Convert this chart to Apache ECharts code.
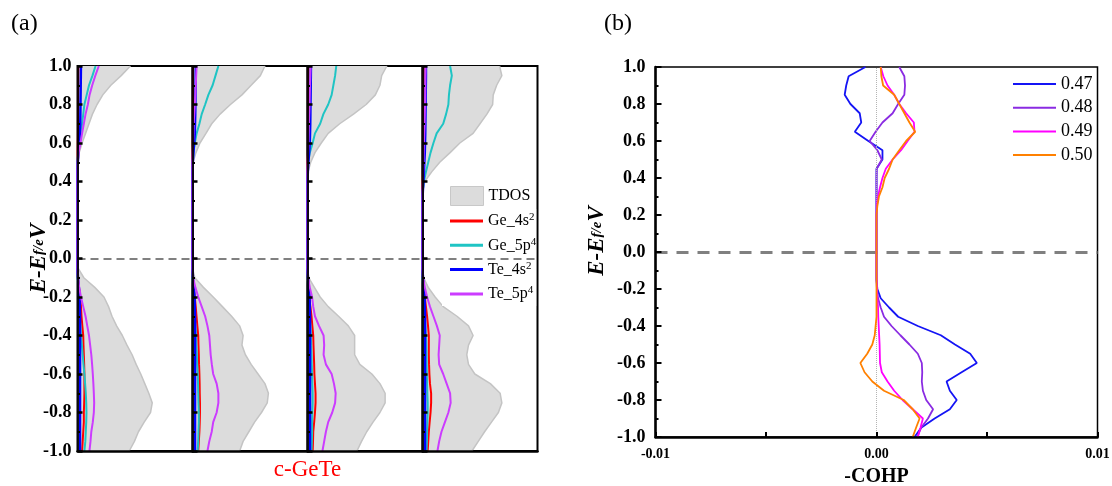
<!DOCTYPE html>
<html>
<head>
<meta charset="utf-8">
<script src="https://cdn.jsdelivr.net/npm/echarts@6/dist/echarts.min.js"></script>
<style>
  html, body { margin: 0; padding: 0; background: #fff; }
  #chart { width: 1112px; height: 486px; }
</style>
</head>
<body>
<div id="chart"></div>
<script>
// energy grid (eV), bottom -> top
const energy = [-1.0, -0.95, -0.9, -0.85, -0.8, -0.75, -0.7, -0.65, -0.6, -0.55,
  -0.5, -0.45, -0.4, -0.35, -0.3, -0.25, -0.2, -0.15, -0.1, -0.05,
  0, 0.05, 0.1, 0.15, 0.2, 0.25, 0.3, 0.35, 0.4, 0.45,
  0.5, 0.55, 0.6, 0.65, 0.7, 0.75, 0.8, 0.85, 0.9, 0.95, 1.0];

// (a) density of states, four panels
const tdos1 = [4.5, 4.95, 5.3, 5.8, 6.35, 6.5, 6.2, 5.85, 5.5, 5.1, 4.75, 4.3, 3.9, 3.4, 3.0, 2.7, 2.3, 1.5, 0.55, 0.05,
  0, 0, 0, 0, 0, 0, 0, 0, 0, 0, 0.05, 0.15, 0.4, 0.7, 1.0, 1.3, 1.7, 2.2, 2.9, 3.8, 4.6];
const ge4s1 = [0.4, 0.45, 0.5, 0.55, 0.55, 0.58, 0.6, 0.6, 0.6, 0.58, 0.55, 0.52, 0.5, 0.42, 0.35, 0.3, 0.25, 0.12, 0.03, 0,
  0, 0, 0, 0, 0, 0, 0, 0, 0, 0, 0, 0.02, 0.03, 0.04, 0.05, 0.05, 0.06, 0.06, 0.07, 0.07, 0.08];
const ge5p1 = [0.6, 0.68, 0.72, 0.76, 0.78, 0.76, 0.72, 0.66, 0.6, 0.52, 0.45, 0.38, 0.3, 0.25, 0.2, 0.15, 0.1, 0.05, 0.02, 0,
  0, 0, 0, 0, 0, 0, 0, 0, 0, 0, 0, 0.05, 0.2, 0.3, 0.4, 0.5, 0.6, 0.8, 1.0, 1.3, 1.57];
const te4s1 = [0.22, 0.22, 0.22, 0.22, 0.22, 0.22, 0.22, 0.22, 0.22, 0.22, 0.22, 0.22, 0.22, 0.22, 0.22, 0.2, 0.18, 0.12, 0.04, 0,
  0, 0, 0, 0, 0, 0, 0, 0, 0, 0, 0.03, 0.08, 0.14, 0.2, 0.24, 0.25, 0.26, 0.27, 0.28, 0.29, 0.3];
const te5p1 = [1.04, 1.13, 1.2, 1.33, 1.42, 1.45, 1.42, 1.38, 1.33, 1.27, 1.2, 1.1, 1.0, 0.85, 0.7, 0.5, 0.3, 0.15, 0.05, 0,
  0, 0, 0, 0, 0, 0, 0, 0, 0, 0, 0.02, 0.1, 0.26, 0.4, 0.55, 0.7, 0.9, 1.05, 1.28, 1.55, 1.85];

const tdos2 = [4.1, 4.4, 4.9, 5.4, 6.0, 6.5, 6.6, 6.3, 5.7, 5.1, 4.6, 4.3, 4.4, 4.1, 3.4, 2.6, 1.8, 0.95, 0.2, 0,
  0, 0, 0, 0, 0, 0, 0, 0, 0, 0, 0.05, 0.3, 0.65, 1.17, 1.67, 2.4, 3.3, 4.3, 5.1, 5.9, 6.3];
const ge4s2 = [0.5, 0.55, 0.6, 0.63, 0.65, 0.65, 0.63, 0.62, 0.6, 0.57, 0.55, 0.52, 0.5, 0.42, 0.35, 0.28, 0.2, 0.1, 0.03, 0,
  0, 0, 0, 0, 0, 0, 0, 0, 0, 0, 0, 0.02, 0.03, 0.04, 0.05, 0.05, 0.05, 0.05, 0.05, 0.05, 0.05];
const ge5p2 = [0.45, 0.5, 0.52, 0.55, 0.55, 0.52, 0.5, 0.48, 0.45, 0.4, 0.38, 0.33, 0.3, 0.25, 0.2, 0.15, 0.1, 0.05, 0.02, 0,
  0, 0, 0, 0, 0, 0, 0, 0, 0, 0, 0.02, 0.08, 0.2, 0.36, 0.6, 0.8, 1.1, 1.38, 1.75, 2.0, 2.25];
const te4s2 = [0.22, 0.22, 0.22, 0.22, 0.22, 0.22, 0.22, 0.22, 0.22, 0.22, 0.22, 0.22, 0.22, 0.22, 0.22, 0.2, 0.18, 0.12, 0.04, 0,
  0, 0, 0, 0, 0, 0, 0, 0, 0, 0, 0.03, 0.08, 0.14, 0.2, 0.22, 0.24, 0.25, 0.26, 0.27, 0.28, 0.29];
const te5p2 = [1.3, 1.46, 1.67, 1.8, 2.1, 2.25, 2.25, 2.1, 1.8, 1.68, 1.58, 1.52, 1.46, 1.3, 1.1, 0.8, 0.5, 0.25, 0.05, 0,
  0, 0, 0, 0, 0, 0, 0, 0, 0, 0, 0, 0.02, 0.05, 0.08, 0.1, 0.15, 0.2, 0.25, 0.28, 0.32, 0.36];

const tdos3 = [4.3, 4.7, 5.15, 5.7, 6.3, 6.75, 6.75, 6.3, 5.6, 4.55, 4.1, 4.1, 4.1, 3.55, 2.7, 1.8, 1.1, 0.6, 0.1, 0,
  0, 0, 0, 0, 0, 0, 0, 0, 0, 0.05, 0.28, 0.65, 1.2, 1.8, 2.8, 4.0, 5.1, 5.9, 6.3, 6.45, 6.9];
const ge4s3 = [0.45, 0.48, 0.5, 0.58, 0.65, 0.7, 0.7, 0.65, 0.6, 0.58, 0.55, 0.52, 0.5, 0.42, 0.35, 0.25, 0.15, 0.08, 0.02, 0,
  0, 0, 0, 0, 0, 0, 0, 0, 0, 0, 0.02, 0.04, 0.05, 0.06, 0.06, 0.07, 0.07, 0.08, 0.08, 0.08, 0.08];
const ge5p3 = [0.35, 0.38, 0.4, 0.4, 0.42, 0.45, 0.45, 0.42, 0.4, 0.37, 0.35, 0.32, 0.3, 0.25, 0.2, 0.15, 0.1, 0.05, 0.02, 0,
  0, 0, 0, 0, 0, 0, 0, 0, 0, 0.02, 0.05, 0.2, 0.45, 0.65, 1.1, 1.38, 1.8, 2.1, 2.25, 2.4, 2.5];
const te4s3 = [0.22, 0.22, 0.22, 0.22, 0.22, 0.22, 0.22, 0.22, 0.22, 0.22, 0.22, 0.22, 0.22, 0.22, 0.22, 0.2, 0.18, 0.12, 0.04, 0,
  0, 0, 0, 0, 0, 0, 0, 0, 0, 0.03, 0.08, 0.14, 0.2, 0.22, 0.24, 0.25, 0.26, 0.27, 0.28, 0.29, 0.3];
const te5p3 = [1.3, 1.45, 1.6, 1.8, 2.15, 2.4, 2.45, 2.3, 2.1, 1.6, 1.4, 1.45, 1.4, 1.0, 0.65, 0.5, 0.4, 0.2, 0.05, 0,
  0, 0, 0, 0, 0, 0, 0, 0, 0, 0, 0.02, 0.05, 0.08, 0.1, 0.12, 0.15, 0.18, 0.2, 0.22, 0.25, 0.28];

const tdos4 = [4.3, 4.85, 5.4, 6.0, 6.6, 6.9, 6.75, 5.9, 4.55, 4.0, 3.85, 4.0, 4.4, 4.0, 3.0, 1.8, 1.1, 0.5, 0.1, 0,
  0, 0, 0, 0, 0, 0, 0, 0.02, 0.2, 0.8, 1.5, 2.4, 3.25, 4.4, 5.0, 5.6, 6.1, 6.15, 6.45, 6.9, 6.7];
const ge4s4 = [0.45, 0.5, 0.55, 0.62, 0.7, 0.75, 0.75, 0.65, 0.6, 0.57, 0.55, 0.55, 0.55, 0.48, 0.4, 0.3, 0.2, 0.1, 0.03, 0,
  0, 0, 0, 0, 0, 0, 0, 0, 0.02, 0.04, 0.05, 0.06, 0.07, 0.08, 0.08, 0.09, 0.09, 0.1, 0.1, 0.1, 0.1];
const ge5p4 = [0.35, 0.38, 0.4, 0.42, 0.45, 0.45, 0.42, 0.4, 0.38, 0.36, 0.35, 0.33, 0.3, 0.25, 0.2, 0.15, 0.1, 0.05, 0.02, 0,
  0, 0, 0, 0, 0, 0, 0, 0.02, 0.12, 0.3, 0.5, 0.7, 0.95, 1.23, 1.8, 2.05, 2.25, 2.3, 2.4, 2.55, 2.4];
const te4s4 = [0.22, 0.22, 0.22, 0.22, 0.22, 0.22, 0.22, 0.22, 0.22, 0.22, 0.22, 0.22, 0.22, 0.22, 0.22, 0.2, 0.18, 0.12, 0.04, 0,
  0, 0, 0, 0, 0, 0, 0, 0.03, 0.08, 0.12, 0.16, 0.2, 0.22, 0.24, 0.25, 0.26, 0.27, 0.28, 0.29, 0.3, 0.3];
const te5p4 = [1.3, 1.45, 1.65, 1.95, 2.25, 2.45, 2.4, 2.1, 1.8, 1.45, 1.4, 1.45, 1.5, 1.25, 0.95, 0.65, 0.4, 0.2, 0.05, 0,
  0, 0, 0, 0, 0, 0, 0, 0.02, 0.04, 0.06, 0.08, 0.1, 0.12, 0.15, 0.18, 0.2, 0.22, 0.24, 0.25, 0.26, 0.28];

// (b) -COHP, in units of 1e-3
const cohp047 = [1.72, 2.02, 2.63, 3.32, 3.63, 3.32, 3.17, 3.85, 4.54, 4.24, 3.55, 2.91, 1.87, 0.98, 0.57, 0.19, 0.04, 0, 0, 0,
  0, 0, 0, 0, 0, 0, 0, 0, 0, 0, 0.27, 0.27, -0.37, -0.98, -0.69, -0.76, -1.18, -1.44, -1.37, -1.26, -0.5];
const cohp048 = [1.84, 2.02, 2.33, 2.56, 2.25, 2.1, 2.05, 2.07, 2.05, 1.87, 1.49, 1.08, 0.68, 0.34, 0.19, 0.07, 0.02, 0, 0, 0,
  0, 0, 0, 0, 0, 0, 0, 0, 0, 0.01, 0.24, 0.04, -0.31, -0.04, 0.27, 0.73, 0.98, 1.26, 1.29, 1.26, 1.03];
const cohp049 = [1.87, 1.99, 2.1, 1.64, 1.18, 0.8, 0.5, 0.24, 0.16, 0.15, 0.14, 0.12, 0.1, 0.08, 0.07, 0.04, 0.02, 0.01, 0, 0,
  0, 0, 0, 0, 0, 0.02, 0.07, 0.16, 0.27, 0.42, 0.73, 1.11, 1.41, 1.72, 1.69, 1.34, 1.03, 0.8, 0.5, 0.31, 0.19];
const cohp050 = [1.64, 1.79, 1.95, 1.64, 1.23, 0.34, -0.19, -0.54, -0.73, -0.42, -0.19, -0.08, -0.04, 0, 0, 0, 0, 0, 0, 0,
  0, 0, 0, 0, 0, 0.04, 0.11, 0.27, 0.37, 0.57, 0.73, 1.03, 1.34, 1.75, 1.49, 1.26, 1.03, 0.8, 0.3, 0.22, 0.19];

const pdosSeries = [
  { name: 'TDOS', color: '#dcdcdc', values: [tdos1, tdos2, tdos3, tdos4] },
  { name: 'Ge_4s2', color: '#ff0000', values: [ge4s1, ge4s2, ge4s3, ge4s4] },
  { name: 'Ge_5p4', color: '#1fc4c4', values: [ge5p1, ge5p2, ge5p3, ge5p4] },
  { name: 'Te_4s2', color: '#0000ff', values: [te4s1, te4s2, te4s3, te4s4] },
  { name: 'Te_5p4', color: '#cc3cff', values: [te5p1, te5p2, te5p3, te5p4] }
];
const cohpSeries = [
  { name: '0.47', color: '#1414f5', values: cohp047 },
  { name: '0.48', color: '#8a2be2', values: cohp048 },
  { name: '0.49', color: '#ff00ff', values: cohp049 },
  { name: '0.50', color: '#ff8000', values: cohp050 }
];

const serif = '"Liberation Serif", "Times New Roman", serif';
const chart = echarts.init(document.getElementById('chart'));

const panelLeft = [77.5, 192.5, 307.5, 422.5];
const titleRich = {
  a: { fontFamily: serif, fontSize: 23, fontWeight: 'bold', fontStyle: 'italic', color: '#000' },
  b: { fontFamily: serif, fontSize: 15, fontWeight: 'bold', fontStyle: 'italic', color: '#000' }
};

const grids = [];
const xAxes = [];
const yAxes = [];
const series = [];

panelLeft.forEach((left, i) => {
  grids.push({ left: left, top: 66, width: 115, height: 385, show: true, borderColor: '#000', borderWidth: 2, outerBoundsMode: 'none', containLabel: false });
  xAxes.push({
    type: 'value', gridIndex: i, min: 0, max: 10, z: 10,
    axisLine: { show: true, onZero: false, lineStyle: { color: '#000', width: 2.5 } },
    axisTick: { show: false }, axisLabel: { show: false }, splitLine: { show: false }
  });
  // hidden category axis carries the data, value axis draws the ticks
  yAxes.push({ type: 'category', gridIndex: i, data: energy, boundaryGap: false, show: false });
  yAxes.push({
    type: 'value', gridIndex: i, min: -1, max: 1, interval: 0.2, position: 'left', z: 10,
    axisLine: { show: true, onZero: false, lineStyle: { color: '#000', width: 1.8 } },
    axisTick: { show: true, inside: true, length: 5, lineStyle: { color: '#000', width: 2.5 } },
    minorTick: { show: true, splitNumber: 2, length: 2.5, lineStyle: { color: '#000', width: 2 } },
    splitLine: { show: false },
    axisLabel: {
      show: i === 0, margin: 6, formatter: v => v.toFixed(1),
      fontFamily: serif, fontSize: 18, fontWeight: 'bold', color: '#000'
    },
    name: i === 0 ? '{a|E-E}{b|f/e}{a|V}' : '',
    nameLocation: 'middle', nameRotate: 90, nameGap: 27, nameMoveOverlap: false,
    nameTextStyle: { rich: titleRich }
  });
  pdosSeries.forEach((s, k) => {
    const isTotal = s.name === 'TDOS';
    const item = {
      name: s.name, type: 'line', xAxisIndex: i, yAxisIndex: 2 * i,
      data: s.values[i], symbol: 'none', smooth: false, color: s.color,
      lineStyle: { color: isTotal ? '#c4c4c4' : s.color, width: isTotal ? 1.5 : (s.name === 'Te_4s2' ? 2.5 : 2) },
      z: isTotal ? 1 : 3 + k, silent: true
    };
    if (isTotal) {
      item.areaStyle = { color: '#dcdcdc', opacity: 1 };
      item.markLine = {
        silent: true, symbol: ['none', 'none'], label: { show: false }, z: 8,
        lineStyle: { color: '#808080', type: [8, 5], width: 2 },
        data: [{ yAxis: energy.indexOf(0) }]
      };
    }
    series.push(item);
  });
});

// panel (b)
grids.push({ left: 655.5, top: 67, width: 442, height: 370, show: true, borderColor: '#000', borderWidth: 1.5, outerBoundsMode: 'none', containLabel: false });
xAxes.push({
  type: 'value', gridIndex: 4, min: -10, max: 10, interval: 5, z: 10,
  axisLine: { show: true, onZero: false, lineStyle: { color: '#000', width: 2.5 } },
  axisTick: { show: true, inside: true, length: 5, lineStyle: { color: '#000', width: 2 } },
  splitLine: { show: false },
  axisLabel: {
    margin: 10, fontFamily: serif, fontSize: 14, fontWeight: 'bold', color: '#000',
    formatter: v => (Math.abs(v) === 5 ? '' : (v / 1000).toFixed(2))
  },
  name: '-COHP', nameLocation: 'middle', nameGap: 30, nameMoveOverlap: false,
  nameTextStyle: { fontFamily: serif, fontSize: 20, fontWeight: 'bold', color: '#000' }
});
yAxes.push({
  type: 'value', gridIndex: 4, min: -1, max: 1, interval: 0.2, z: 10,
  axisLine: { show: true, onZero: false, lineStyle: { color: '#000', width: 2.5 } },
  axisTick: { show: true, inside: true, length: 6, lineStyle: { color: '#000', width: 2 } },
  minorTick: { show: true, splitNumber: 2, length: 3, lineStyle: { color: '#000', width: 2 } },
  splitLine: { show: false },
  axisLabel: { margin: 10, formatter: v => v.toFixed(1), fontFamily: serif, fontSize: 18, fontWeight: 'bold', color: '#000' },
  name: '{a|E-E}{b|f/e}{a|V}', nameLocation: 'middle', nameRotate: 90, nameGap: 47,
  nameTextStyle: { rich: titleRich, padding: [0, 0, 0, 22] }
});
const yIdxB = yAxes.length - 1;
cohpSeries.forEach((s, k) => {
  const item = {
    name: s.name, type: 'line', xAxisIndex: 4, yAxisIndex: yIdxB,
    data: energy.map((e, j) => [s.values[j], e]),
    symbol: 'none', color: s.color, lineStyle: { color: s.color, width: 1.8 },
    z: 3 + k, silent: true
  };
  if (k === 0) {
    item.markLine = {
      silent: true, symbol: ['none', 'none'], label: { show: false },
      data: [
        { yAxis: 0, lineStyle: { color: '#808080', type: [12, 9], width: 3 } },
        { xAxis: 0, lineStyle: { color: '#b4b4b4', type: 'dotted', width: 1 } }
      ]
    };
  }
  series.push(item);
});

const supFormatter = n => n.slice(0, -1) + '{sup|' + n.slice(-1) + '}';

chart.setOption({
  backgroundColor: '#fff',
  animation: false,
  grid: grids,
  xAxis: xAxes,
  yAxis: yAxes,
  legend: [
    {
      data: ['TDOS'], left: 450, top: 186, orient: 'vertical', padding: 0,
      icon: 'rect', itemWidth: 33, itemHeight: 19,
      itemStyle: { borderColor: '#c8c8c8', borderWidth: 1 },
      textStyle: { fontFamily: serif, fontSize: 16, color: '#000' }
    },
    {
      data: ['Ge_4s2', 'Ge_5p4', 'Te_4s2', 'Te_5p4'], left: 442, top: 209, orient: 'vertical',
      padding: [3, 0, 3, 8], backgroundColor: '#fff',
      icon: 'rect', itemWidth: 33, itemHeight: 3, itemGap: 6.3,
      formatter: supFormatter,
      textStyle: {
        fontFamily: serif, fontSize: 16, color: '#000', lineHeight: 18,
        rich: { sup: { fontFamily: serif, fontSize: 11, color: '#000', lineHeight: 8, verticalAlign: 'top' } }
      }
    },
    {
      data: ['0.47', '0.48', '0.49', '0.50'], left: 1013, top: 74, orient: 'vertical', padding: 0,
      icon: 'rect', itemWidth: 43, itemHeight: 2, itemGap: 3.7,
      textStyle: { fontFamily: serif, fontSize: 18, color: '#000', lineHeight: 20 }
    }
  ],
  graphic: [
    { type: 'text', left: 11, top: 12, style: { text: '(a)', font: '24px ' + serif, fill: '#000' } },
    { type: 'text', left: 604, top: 12, style: { text: '(b)', font: '24px ' + serif, fill: '#000' } },
    { type: 'text', x: 307.5, y: 470, style: { text: 'c-GeTe', font: '23px ' + serif, fill: '#ff0000', align: 'center', verticalAlign: 'middle' } }
  ],
  series: series
});
</script>
</body>
</html>
